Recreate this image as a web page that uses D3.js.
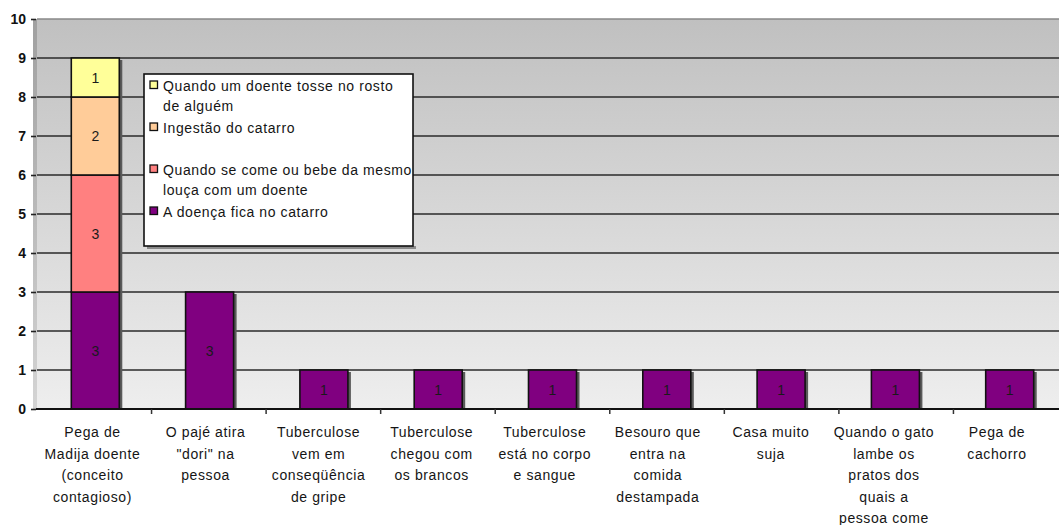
<!DOCTYPE html>
<html>
<head>
<meta charset="utf-8">
<script src="https://cdn.jsdelivr.net/npm/d3@7/dist/d3.min.js"></script>
<style>
  html, body { margin: 0; padding: 0; background: #fff; }
  svg { display: block; }
  text { font-family: "Liberation Sans", Arial, sans-serif; }
</style>
</head>
<body>
<svg id="chart" width="1059" height="525"></svg>
<script>
// Categories (each label split into its printed lines)
const categories = [
  ["Pega de", "Madija doente", "(conceito", "contagioso)"],
  ["O pajé atira", "\"dori\" na", "pessoa"],
  ["Tuberculose", "vem em", "conseqüência", "de gripe"],
  ["Tuberculose", "chegou com", "os brancos"],
  ["Tuberculose", "está no corpo", "e sangue"],
  ["Besouro que", "entra na", "comida", "destampada"],
  ["Casa muito", "suja"],
  ["Quando o gato", "lambe os", "pratos dos", "quais a", "pessoa come"],
  ["Pega de", "cachorro"]
];

// Series, stacked from the bottom up
const seriesNames = [
  ["A doença fica no catarro"],
  ["Quando se come ou bebe da mesmo", "louça com um doente"],
  ["Ingestão do catarro"],
  ["Quando um doente tosse no rosto", "de alguém"]
];
const doencaCatarro = [3, 3, 1, 1, 1, 1, 1, 1, 1];
const mesmaLouca    = [3, 0, 0, 0, 0, 0, 0, 0, 0];
const ingestao      = [2, 0, 0, 0, 0, 0, 0, 0, 0];
const tosseRosto    = [1, 0, 0, 0, 0, 0, 0, 0, 0];
const seriesColors  = ["#800080", "#ff8080", "#ffcc99", "#ffff99"];

const yTicks = [0, 1, 2, 3, 4, 5, 6, 7, 8, 9, 10];

const svg = d3.select("#chart");
const plot = { left: 37, top: 19, bottom: 409, right: 1068 };

const keys = categories.map((c, i) => "c" + i);
const rows = keys.map((k, i) => ({
  key: k,
  s0: doencaCatarro[i], s1: mesmaLouca[i], s2: ingestao[i], s3: tosseRosto[i]
}));
const stack = d3.stack().keys(["s0", "s1", "s2", "s3"])(rows);

const y = d3.scaleLinear().domain([0, 10]).range([plot.bottom, plot.top]);
const x = d3.scaleBand().domain(keys).range([plot.left, plot.right])
  .paddingInner(0.58).paddingOuter(0.3);
const xCat = d3.scaleBand().domain(keys).range([plot.left, plot.right]).padding(0);
const xLabel = d3.scalePoint().domain(keys).range([92.5, 997]);

// Plot background gradient
const defs = svg.append("defs");
const grad = defs.append("linearGradient").attr("id", "bg")
  .attr("x1", 0).attr("y1", 0).attr("x2", 0).attr("y2", 1);
grad.append("stop").attr("offset", "0%").attr("stop-color", "#c0c0c0");
grad.append("stop").attr("offset", "100%").attr("stop-color", "#eeeeee");
const gradWall = defs.append("linearGradient").attr("id", "wall")
  .attr("x1", 0).attr("y1", 0).attr("x2", 0).attr("y2", 1);
gradWall.append("stop").attr("offset", "0%").attr("stop-color", "#a0a0a0");
gradWall.append("stop").attr("offset", "100%").attr("stop-color", "#d4d4d4");

svg.append("rect")
  .attr("x", plot.left).attr("y", y(10))
  .attr("width", plot.right - plot.left).attr("height", y(0) - y(10))
  .attr("fill", "url(#bg)");
svg.append("rect")
  .attr("x", plot.left - 4).attr("y", y(10))
  .attr("width", 4).attr("height", y(0) - y(10))
  .attr("fill", "url(#wall)");

// Gridlines
svg.append("g").selectAll("line")
  .data(yTicks.filter(t => t > 0))
  .join("line")
  .attr("x1", plot.left).attr("x2", plot.right)
  .attr("y1", d => y(d)).attr("y2", d => y(d))
  .attr("stroke", d => d === 10 ? "#888" : "#2a2a2a")
  .attr("stroke-width", 1.6);

// Y axis
const yAxis = d3.axisLeft(y).tickValues(yTicks).tickSize(5).tickPadding(5);
const gy = svg.append("g").attr("transform", `translate(${plot.left - 1},0)`).call(yAxis);
gy.select(".domain").remove();
gy.selectAll(".tick line").attr("stroke", "#222").attr("stroke-width", 1.6);
gy.selectAll(".tick text")
  .attr("font-size", 14).attr("font-weight", "bold").attr("fill", "#111");

// Bar shadows
svg.append("g").selectAll("rect")
  .data(rows.map((r, i) => ({ key: r.key, total: stack[3][i][1] })))
  .join("rect")
  .attr("x", d => x(d.key) + x.bandwidth())
  .attr("y", d => y(d.total) + 2)
  .attr("width", 3)
  .attr("height", d => y(0) - y(d.total) - 2)
  .attr("fill", "#5a5a5a");

// Stacked bars
const layers = svg.append("g").selectAll("g")
  .data(stack).join("g")
  .attr("fill", (d, i) => seriesColors[i]);
layers.selectAll("rect")
  .data(d => d.filter(p => p[1] > p[0]).map(p => ({ p, key: p.data.key })))
  .join("rect")
  .attr("x", d => x(d.key))
  .attr("y", d => y(d.p[1]))
  .attr("width", x.bandwidth())
  .attr("height", d => y(d.p[0]) - y(d.p[1]))
  .attr("stroke", "#111").attr("stroke-width", 1.6);

// Segment values
layers.selectAll("text")
  .data(d => d.filter(p => p[1] > p[0]).map(p => ({ p, key: p.data.key })))
  .join("text")
  .attr("x", d => x(d.key) + x.bandwidth() / 2)
  .attr("y", d => y((d.p[0] + d.p[1]) / 2) + 5)
  .attr("text-anchor", "middle")
  .attr("font-size", 14)
  .attr("fill", "#1a1a1a")
  .text(d => d.p[1] - d.p[0]);

// Baseline and category ticks
svg.append("line")
  .attr("x1", plot.left - 1).attr("x2", plot.right)
  .attr("y1", y(0)).attr("y2", y(0))
  .attr("stroke", "#111").attr("stroke-width", 2);
svg.append("g").selectAll("line")
  .data(keys.slice(1))
  .join("line")
  .attr("x1", d => xCat(d)).attr("x2", d => xCat(d))
  .attr("y1", y(0)).attr("y2", y(0) + 5)
  .attr("stroke", "#333").attr("stroke-width", 1.5);

// Category labels
const labels = svg.append("g").selectAll("text")
  .data(categories.map((lines, i) => ({ lines, key: keys[i] })))
  .join("text")
  .attr("text-anchor", "middle")
  .attr("font-size", 14)
  .attr("letter-spacing", 0.6)
  .attr("fill", "#151515");
labels.selectAll("tspan")
  .data(d => d.lines.map(l => ({ l, key: d.key })))
  .join("tspan")
  .attr("x", d => xLabel(d.key))
  .attr("y", (d, i) => 437 + i * 21.5)
  .text(d => d.l);

// Legend
const legend = { left: 144, top: 74, right: 413, bottom: 246 };
svg.append("rect")
  .attr("x", legend.left + 3).attr("y", legend.bottom)
  .attr("width", legend.right - legend.left).attr("height", 3)
  .attr("fill", "#8a8a8a");
svg.append("rect")
  .attr("x", legend.left).attr("y", legend.top)
  .attr("width", legend.right - legend.left).attr("height", legend.bottom - legend.top)
  .attr("fill", "#fff").attr("stroke", "#111").attr("stroke-width", 1.6);

const legendOrder = [3, 2, 1, 0];
const items = svg.append("g").selectAll("g")
  .data(legendOrder)
  .join("g")
  .attr("transform", (s, i) => `translate(0,${91 + i * 42})`);
items.append("rect")
  .attr("x", 150).attr("y", -10)
  .attr("width", 7.5).attr("height", 7.5)
  .attr("fill", s => seriesColors[s])
  .attr("stroke", "#111").attr("stroke-width", 1.3);
const itemText = items.append("text")
  .attr("font-size", 14)
  .attr("letter-spacing", 0.6)
  .attr("fill", "#151515");
itemText.selectAll("tspan")
  .data(s => seriesNames[s])
  .join("tspan")
  .attr("x", 163)
  .attr("y", (d, i) => i * 19.5)
  .text(d => d);
</script>
</body>
</html>
